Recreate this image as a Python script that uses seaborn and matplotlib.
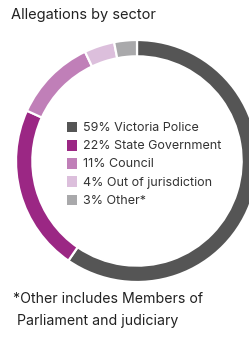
import matplotlib
matplotlib.use("Agg")
import matplotlib.pyplot as plt
import seaborn as sns
from matplotlib.patches import Rectangle

categories = ["Victoria Police", "State Government", "Council", "Out of jurisdiction", "Other*"]
values = [59, 22, 11, 4, 3]
colors = ["#555555", "#9b2784", "#c07fb8", "#dcbfdc", "#a9a9ab"]
title = "Allegations by sector"
footnote = ["*Other includes Members of", " Parliament and judiciary"]

sns.set_theme(style="white")
plt.rcParams['font.family'] = ['Inter', 'DejaVu Sans']

W, H = 249, 338
fig = plt.figure(figsize=(W / 100, H / 100), dpi=100)
fig.patch.set_facecolor("white")

def fx(x):
    return x / W

def fy(y):
    return 1 - y / H

cx, cy, r = 137, 161, 121
ax = fig.add_axes([fx(cx - r), fy(cy + r), 2 * r / W, 2 * r / H])
ax.pie(values, colors=colors, startangle=90, counterclock=False, radius=1,
       wedgeprops=dict(width=0.135, edgecolor="white", linewidth=1.6))
ax.set_xlim(-1, 1)
ax.set_ylim(-1, 1)
ax.set_aspect("equal")
ax.axis("off")

fig.text(fx(11), fy(18.5), title, fontsize=10.5, color="#222222", va="baseline", ha="left")

base0, step = 130.7, 18.3
for i, (c, v, col) in enumerate(zip(categories, values, colors)):
    b = base0 + i * step
    fig.patches.append(Rectangle((fx(66.7), fy(b + 1.5)), 10.6 / W, 10.6 / H,
                                 transform=fig.transFigure, facecolor=col, edgecolor="none"))
    fig.text(fx(83), fy(b), f"{v}% {c}", fontsize=9.0, color="#333333", va="baseline", ha="left")

fig.text(fx(13), fy(303), footnote[0], fontsize=10.2, color="#222222", va="baseline", ha="left")
fig.text(fx(13), fy(325), footnote[1], fontsize=10.2, color="#222222", va="baseline", ha="left")

fig.savefig("out.png", dpi=100, facecolor="white")
